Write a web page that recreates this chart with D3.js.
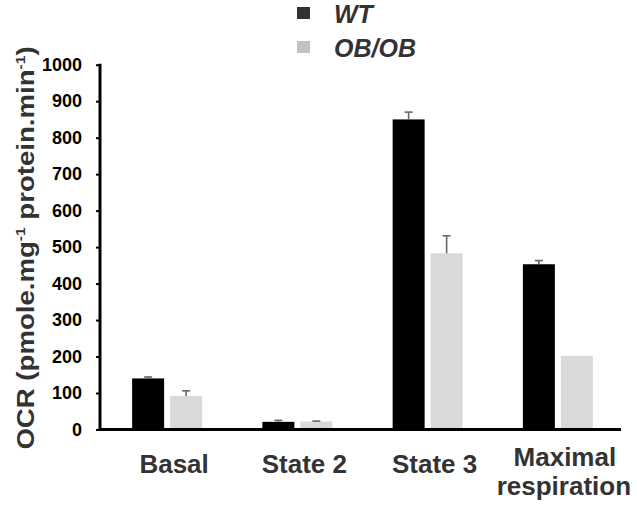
<!DOCTYPE html>
<html>
<head>
<meta charset="utf-8">
<script src="https://cdn.jsdelivr.net/npm/d3@7"></script>
<style>
  html, body { margin: 0; padding: 0; background: #fff; }
  svg { display: block; font-family: "Liberation Sans", Arial, sans-serif; }
</style>
</head>
<body>
<svg id="chart" width="637" height="508"></svg>
<script>
// Oxygen consumption rate per respiration state
const categories = ["Basal", "State 2", "State 3", "Maximal respiration"];
const series = ["WT", "OB/OB"];
const wtValues = [140, 21, 850, 453];
const wtErrors = [4, 4, 20, 10];
const obValues = [92, 22, 483, 202];
const obErrors = [14, 1, 48, 0];
const yTicks = [0, 100, 200, 300, 400, 500, 600, 700, 800, 900, 1000];

const barColors = { "WT": "#000000", "OB/OB": "#d9d9d9" };
const legendColors = { "WT": "#333333", "OB/OB": "#c8bec4" };

const svg = d3.select("#chart");

const x0 = d3.scaleBand().domain(categories).range([101, 622]).padding(0);
const x1 = d3.scaleBand().domain(series).range([-34, 36]).paddingInner(0.158).paddingOuter(0);
const y = d3.scaleLinear().domain([0, 1000]).range([429.5, 64.7]);

const rows = categories.map((c, i) => ({
  category: c,
  bars: [
    { key: "WT", value: wtValues[i], err: wtErrors[i] },
    { key: "OB/OB", value: obValues[i], err: obErrors[i] }
  ]
}));

// Bars
const groups = svg.append("g").selectAll("g")
  .data(rows).join("g")
  .attr("transform", d => `translate(${x0(d.category) + x0.bandwidth() / 2},0)`);

groups.selectAll("rect")
  .data(d => d.bars).join("rect")
  .attr("x", d => x1(d.key))
  .attr("width", x1.bandwidth())
  .attr("y", d => y(d.value))
  .attr("height", d => y(0) - y(d.value))
  .attr("fill", d => barColors[d.key]);

// Upper error bars with caps
const errs = groups.selectAll("g.err")
  .data(d => d.bars.filter(b => b.err > 0)).join("g")
  .attr("class", "err")
  .attr("stroke", "#666")
  .attr("stroke-width", 1.6);
errs.append("line")
  .attr("x1", d => x1(d.key) + x1.bandwidth() / 2)
  .attr("x2", d => x1(d.key) + x1.bandwidth() / 2)
  .attr("y1", d => y(d.value))
  .attr("y2", d => y(d.value + d.err));
errs.append("line")
  .attr("x1", d => x1(d.key) + x1.bandwidth() / 2 - 4)
  .attr("x2", d => x1(d.key) + x1.bandwidth() / 2 + 4)
  .attr("y1", d => y(d.value + d.err))
  .attr("y2", d => y(d.value + d.err));

// Y axis
const yAxis = svg.append("g")
  .attr("transform", "translate(100,0)")
  .call(d3.axisLeft(y).tickValues(yTicks).tickFormat(d3.format("d"))
    .tickSize(4).tickSizeOuter(0).tickPadding(14));
yAxis.select(".domain").remove();
yAxis.selectAll(".tick line").attr("stroke", "#000").attr("stroke-width", 2);
yAxis.selectAll(".tick text")
  .attr("fill", "#000")
  .style("font-size", "18px")
  .style("font-weight", "bold")
  .style("font-family", "'Liberation Sans', Arial, sans-serif");
yAxis.append("line")
  .attr("x1", 0).attr("x2", 0)
  .attr("y1", y(1000) - 1).attr("y2", y(0) + 1.5)
  .attr("stroke", "#000").attr("stroke-width", 3);

// X axis
const xAxis = svg.append("g")
  .attr("transform", `translate(0,${y(0)})`)
  .call(d3.axisBottom(x0).tickSize(0).tickSizeOuter(0).tickFormat(""));
xAxis.select(".domain").remove();
xAxis.append("line")
  .attr("x1", 98.5).attr("x2", 621)
  .attr("y1", 0).attr("y2", 0)
  .attr("stroke", "#000").attr("stroke-width", 3);

// Category labels (the last one wraps over two lines)
const labelLines = { "Maximal respiration": ["Maximal", "respiration"] };
const xLabels = svg.append("g")
  .attr("fill", "#333")
  .style("font-size", "26px")
  .style("font-weight", "bold")
  .attr("text-anchor", "middle");
categories.forEach(c => {
  const lines = labelLines[c] || [c];
  const t = xLabels.append("text")
    .attr("x", x0(c) + x0.bandwidth() / 2 + 8)
    .attr("y", lines.length > 1 ? 466 : 473);
  lines.forEach((ln, j) => {
    t.append("tspan")
      .attr("x", x0(c) + x0.bandwidth() / 2 + 8 + (j === 1 ? -1 : 0))
      .attr("dy", j === 0 ? 0 : 29)
      .text(ln);
  });
});

// Y axis title, stretched along its length
const yTitle = svg.append("text")
  .attr("transform", "translate(33.5,248) rotate(-90) scale(1.2,1)")
  .attr("text-anchor", "middle")
  .attr("fill", "#333")
  .style("font-size", "23px")
  .style("font-weight", "bold");
yTitle.append("tspan").text("OCR (pmole.mg");
yTitle.append("tspan").attr("dy", -9).style("font-size", "13px").text("-1");
yTitle.append("tspan").attr("dy", 9).text(" protein.min");
yTitle.append("tspan").attr("dy", -9).style("font-size", "13px").text("-1");
yTitle.append("tspan").attr("dy", 9).text(")");

// Legend
const legend = svg.append("g");
series.forEach((s, i) => {
  const ly = 7 + i * 34;
  legend.append("rect")
    .attr("x", 297).attr("y", ly)
    .attr("width", 13).attr("height", 12)
    .attr("fill", legendColors[s]);
  legend.append("text")
    .attr("x", 334).attr("y", ly + 16)
    .attr("fill", "#333")
    .style("font-size", "25px")
    .style("font-weight", "bold")
    .style("font-style", "italic")
    .text(s);
});
</script>
</body>
</html>
